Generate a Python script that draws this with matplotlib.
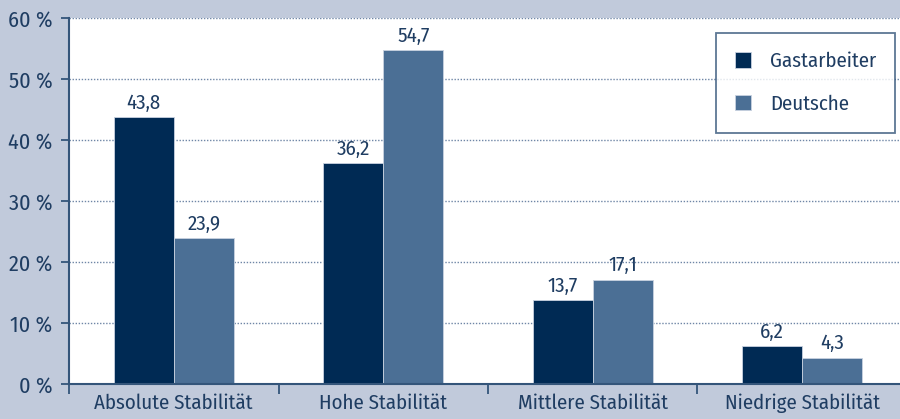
import matplotlib.pyplot as plt
import numpy as np

kategorien = ["Absolute Stabilität", "Hohe Stabilität", "Mittlere Stabilität", "Niedrige Stabilität"]
gastarbeiter = [43.8, 36.2, 13.7, 6.2]
deutsche = [23.9, 54.7, 17.1, 4.3]
y_ticks = [0, 10, 20, 30, 40, 50, 60]

plt.rcParams['font.family'] = ['Fira Sans Condensed', 'PT Sans Narrow', 'DejaVu Sans']
plt.rcParams['font.weight'] = 'normal'

hintergrund = "#c1cadb"
dunkel = "#002a54"
hell = "#4b6f95"
text_farbe = "#1f3d62"
achse = "#34557a"

fig = plt.figure(figsize=(9, 4.19), dpi=100, facecolor=hintergrund)
ax = fig.add_axes([69/900, 35/419, 838/900, 366/419])
ax.set_facecolor("white")

x = np.arange(len(kategorien))
breite = 0.286
b1 = ax.bar(x - breite/2, gastarbeiter, breite, color=dunkel, edgecolor="#c8d2e0", linewidth=0.6, label="Gastarbeiter", zorder=3)
b2 = ax.bar(x + breite/2, deutsche, breite, color=hell, edgecolor="#c8d2e0", linewidth=0.6, label="Deutsche", zorder=3)

for bars, werte in ((b1, gastarbeiter), (b2, deutsche)):
    for b, w in zip(bars, werte):
        ax.text(b.get_x() + b.get_width()/2, w + 0.7, f"{w:.1f}".replace(".", ","),
                ha="center", va="bottom", fontsize=15, color=text_farbe)

ax.set_xlim(-0.5, len(kategorien) - 0.5)
ax.set_ylim(0, 60)
ax.set_yticks(y_ticks)
ax.set_yticklabels([f"{t} %" for t in y_ticks])
ax.set_xticks(x)
ax.set_xticklabels(kategorien)
ax.set_xticks(np.arange(len(kategorien)) - 0.5, minor=True)
ax.tick_params(axis="x", which="major", length=0, pad=7, labelsize=15, colors=text_farbe)
ax.tick_params(axis="x", which="minor", length=7, width=1.3, color=achse, direction="out")
ax.tick_params(axis="y", length=6, width=1.3, color=achse, labelsize=16, labelcolor=text_farbe, pad=6)

ax.yaxis.grid(True, linestyle=(0, (1, 1.2)), color="#6f86a6", linewidth=1.0, zorder=0)
for s in ("top", "right"):
    ax.spines[s].set_visible(False)
for s in ("left", "bottom"):
    ax.spines[s].set_color(achse)
    ax.spines[s].set_linewidth(1.5)
ax.spines["bottom"].set_zorder(4)

leg = ax.legend(loc="upper right", bbox_to_anchor=(895/838 - 69/838, 1 - 15/366), fontsize=15,
                frameon=True, fancybox=False, edgecolor=achse, handlelength=0.8, handleheight=0.8,
                borderpad=0.9, labelspacing=1.1, handletextpad=0.9, borderaxespad=0)
leg.get_frame().set_linewidth(1.3)
for t in leg.get_texts():
    t.set_color(text_farbe)

fig.savefig("out.png", dpi=100, facecolor=hintergrund)
